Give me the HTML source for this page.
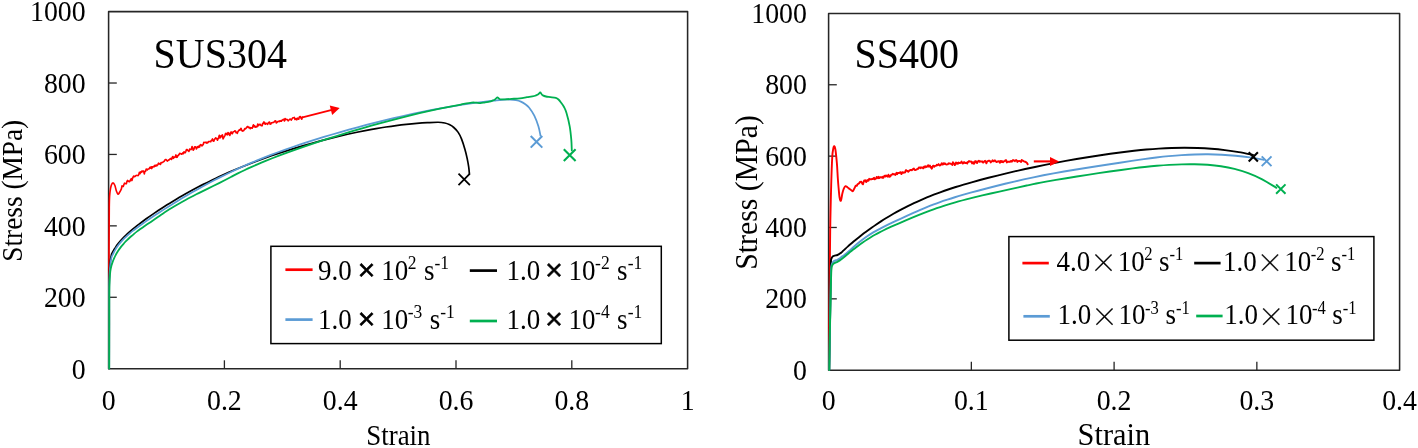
<!DOCTYPE html>
<html lang="en"><head><meta charset="utf-8"><title>Stress-strain curves</title>
<style>html,body{margin:0;padding:0;background:#fff;}body{width:1418px;height:448px;overflow:hidden;}svg{display:block;}</style></head>
<body>
<svg width="1418" height="448" viewBox="0 0 1418 448" role="img" aria-label="Stress-strain curves of SUS304 and SS400">
<rect width="1418" height="448" fill="#ffffff"/>
<rect x="108.60" y="11.60" width="579.00" height="357.10" fill="none" stroke="#262626" stroke-width="1.55" stroke-linejoin="round"/>
<text transform="translate(85.60 378.50) scale(1 1.08)" font-family="'Liberation Serif', 'Times New Roman', serif" font-size="27.8" text-anchor="end" fill="#000">0</text>
<line x1="108.60" y1="297.28" x2="116.80" y2="297.28" stroke="#262626" stroke-width="1.3"/>
<text transform="translate(85.60 307.08) scale(1 1.08)" font-family="'Liberation Serif', 'Times New Roman', serif" font-size="27.8" text-anchor="end" fill="#000">200</text>
<line x1="108.60" y1="225.86" x2="116.80" y2="225.86" stroke="#262626" stroke-width="1.3"/>
<text transform="translate(85.60 235.66) scale(1 1.08)" font-family="'Liberation Serif', 'Times New Roman', serif" font-size="27.8" text-anchor="end" fill="#000">400</text>
<line x1="108.60" y1="154.44" x2="116.80" y2="154.44" stroke="#262626" stroke-width="1.3"/>
<text transform="translate(85.60 164.24) scale(1 1.08)" font-family="'Liberation Serif', 'Times New Roman', serif" font-size="27.8" text-anchor="end" fill="#000">600</text>
<line x1="108.60" y1="83.02" x2="116.80" y2="83.02" stroke="#262626" stroke-width="1.3"/>
<text transform="translate(85.60 92.82) scale(1 1.08)" font-family="'Liberation Serif', 'Times New Roman', serif" font-size="27.8" text-anchor="end" fill="#000">800</text>
<text transform="translate(85.60 21.40) scale(1 1.08)" font-family="'Liberation Serif', 'Times New Roman', serif" font-size="27.8" text-anchor="end" fill="#000">1000</text>
<text transform="translate(108.60 410.4) scale(1 1.08)" font-family="'Liberation Serif', 'Times New Roman', serif" font-size="27.8" text-anchor="middle" fill="#000">0</text>
<line x1="224.40" y1="368.70" x2="224.40" y2="360.30" stroke="#262626" stroke-width="1.3"/>
<text transform="translate(224.40 410.4) scale(1 1.08)" font-family="'Liberation Serif', 'Times New Roman', serif" font-size="27.8" text-anchor="middle" fill="#000">0.2</text>
<line x1="340.20" y1="368.70" x2="340.20" y2="360.30" stroke="#262626" stroke-width="1.3"/>
<text transform="translate(340.20 410.4) scale(1 1.08)" font-family="'Liberation Serif', 'Times New Roman', serif" font-size="27.8" text-anchor="middle" fill="#000">0.4</text>
<line x1="456.00" y1="368.70" x2="456.00" y2="360.30" stroke="#262626" stroke-width="1.3"/>
<text transform="translate(456.00 410.4) scale(1 1.08)" font-family="'Liberation Serif', 'Times New Roman', serif" font-size="27.8" text-anchor="middle" fill="#000">0.6</text>
<line x1="571.80" y1="368.70" x2="571.80" y2="360.30" stroke="#262626" stroke-width="1.3"/>
<text transform="translate(571.80 410.4) scale(1 1.08)" font-family="'Liberation Serif', 'Times New Roman', serif" font-size="27.8" text-anchor="middle" fill="#000">0.8</text>
<text transform="translate(687.60 410.4) scale(1 1.08)" font-family="'Liberation Serif', 'Times New Roman', serif" font-size="27.8" text-anchor="middle" fill="#000">1</text>
<text transform="translate(398.40 445.0) scale(1 1.060)" font-family="'Liberation Serif', 'Times New Roman', serif" font-size="26.9" text-anchor="middle" fill="#000">Strain</text>
<text transform="translate(21.80 190.75) rotate(-90) scale(1 1.08)" font-family="'Liberation Serif', 'Times New Roman', serif" font-size="27.3" text-anchor="middle" fill="#000">Stress (MPa)</text>
<text transform="translate(153.60 67.60) scale(1 1.08)" font-family="'Liberation Serif', 'Times New Roman', serif" font-size="40.0" fill="#000">SUS304</text>
<rect x="828.60" y="13.40" width="571.00" height="356.80" fill="none" stroke="#262626" stroke-width="1.55" stroke-linejoin="round"/>
<text transform="translate(806.90 379.60) scale(1 1.08)" font-family="'Liberation Serif', 'Times New Roman', serif" font-size="27.8" text-anchor="end" fill="#000">0</text>
<line x1="828.60" y1="298.84" x2="836.80" y2="298.84" stroke="#262626" stroke-width="1.3"/>
<text transform="translate(806.90 308.24) scale(1 1.08)" font-family="'Liberation Serif', 'Times New Roman', serif" font-size="27.8" text-anchor="end" fill="#000">200</text>
<line x1="828.60" y1="227.48" x2="836.80" y2="227.48" stroke="#262626" stroke-width="1.3"/>
<text transform="translate(806.90 236.88) scale(1 1.08)" font-family="'Liberation Serif', 'Times New Roman', serif" font-size="27.8" text-anchor="end" fill="#000">400</text>
<line x1="828.60" y1="156.12" x2="836.80" y2="156.12" stroke="#262626" stroke-width="1.3"/>
<text transform="translate(806.90 165.52) scale(1 1.08)" font-family="'Liberation Serif', 'Times New Roman', serif" font-size="27.8" text-anchor="end" fill="#000">600</text>
<line x1="828.60" y1="84.76" x2="836.80" y2="84.76" stroke="#262626" stroke-width="1.3"/>
<text transform="translate(806.90 94.16) scale(1 1.08)" font-family="'Liberation Serif', 'Times New Roman', serif" font-size="27.8" text-anchor="end" fill="#000">800</text>
<text transform="translate(806.90 22.80) scale(1 1.08)" font-family="'Liberation Serif', 'Times New Roman', serif" font-size="27.8" text-anchor="end" fill="#000">1000</text>
<text transform="translate(828.60 410.4) scale(1 1.08)" font-family="'Liberation Serif', 'Times New Roman', serif" font-size="27.8" text-anchor="middle" fill="#000">0</text>
<line x1="971.35" y1="370.20" x2="971.35" y2="361.80" stroke="#262626" stroke-width="1.3"/>
<text transform="translate(971.35 410.4) scale(1 1.08)" font-family="'Liberation Serif', 'Times New Roman', serif" font-size="27.8" text-anchor="middle" fill="#000">0.1</text>
<line x1="1114.10" y1="370.20" x2="1114.10" y2="361.80" stroke="#262626" stroke-width="1.3"/>
<text transform="translate(1114.10 410.4) scale(1 1.08)" font-family="'Liberation Serif', 'Times New Roman', serif" font-size="27.8" text-anchor="middle" fill="#000">0.2</text>
<line x1="1256.85" y1="370.20" x2="1256.85" y2="361.80" stroke="#262626" stroke-width="1.3"/>
<text transform="translate(1256.85 410.4) scale(1 1.08)" font-family="'Liberation Serif', 'Times New Roman', serif" font-size="27.8" text-anchor="middle" fill="#000">0.3</text>
<text transform="translate(1399.60 410.4) scale(1 1.08)" font-family="'Liberation Serif', 'Times New Roman', serif" font-size="27.8" text-anchor="middle" fill="#000">0.4</text>
<text transform="translate(1113.90 445.0) scale(1 1.020)" font-family="'Liberation Serif', 'Times New Roman', serif" font-size="30.4" text-anchor="middle" fill="#000">Strain</text>
<text transform="translate(757.20 192.40) rotate(-90) scale(1 1.08)" font-family="'Liberation Serif', 'Times New Roman', serif" font-size="29.8" text-anchor="middle" fill="#000">Stress (MPa)</text>
<text transform="translate(854.40 67.80) scale(1 1.08)" font-family="'Liberation Serif', 'Times New Roman', serif" font-size="40.0" fill="#000">SS400</text>
<path d="M108.90 368.50 C108.92 348.75 108.93 277.25 109.00 250.00 C109.07 222.75 109.13 214.67 109.30 205.00 C109.47 195.33 109.67 195.28 110.00 192.00 C110.33 188.72 110.80 186.82 111.30 185.30 C111.80 183.78 112.42 182.90 113.00 182.90 C113.58 182.90 114.23 183.95 114.80 185.30 C115.37 186.65 115.87 189.52 116.40 191.00 C116.93 192.48 117.47 193.98 118.00 194.20 C118.53 194.42 119.03 193.18 119.60 192.30 C120.17 191.42 121.10 189.47 121.40 188.90 L122.00 185.93 L122.62 186.35 L123.24 186.52 L123.86 184.78 L124.48 183.20 L125.10 183.45 L125.72 183.57 L126.34 183.73 L126.96 181.38 L127.58 180.34 L128.20 181.43 L128.82 181.15 L129.44 181.64 L130.06 180.94 L130.68 179.50 L131.30 178.66 L131.92 180.58 L132.54 178.28 L133.16 176.97 L133.78 176.04 L134.40 176.57 L135.02 176.45 L135.64 175.71 L136.26 175.49 L136.88 175.44 L137.50 175.52 L138.12 175.61 L138.74 174.60 L139.36 172.36 L139.98 173.68 L140.60 171.92 L141.22 172.30 L141.84 171.01 L142.46 171.70 L143.08 170.95 L143.70 171.37 L144.32 173.88 L144.94 171.37 L145.56 171.26 L146.18 169.12 L146.80 169.23 L147.42 169.83 L148.04 169.09 L148.66 169.05 L149.28 168.57 L149.90 167.26 L150.52 168.04 L151.14 166.82 L151.76 168.59 L152.38 166.75 L153.00 167.09 L153.62 166.35 L154.24 166.75 L154.86 165.28 L155.48 166.07 L156.10 165.07 L156.72 165.79 L157.34 165.19 L157.96 164.39 L158.58 163.17 L159.20 163.98 L159.82 163.70 L160.44 164.42 L161.06 162.63 L161.68 162.77 L162.30 162.54 L162.92 162.07 L163.54 161.66 L164.16 161.32 L164.78 160.34 L165.40 159.52 L166.02 159.63 L166.64 160.29 L167.26 161.04 L167.88 160.55 L168.50 160.27 L169.12 159.75 L169.74 159.34 L170.36 158.58 L170.98 158.68 L171.60 159.36 L172.22 157.50 L172.84 156.51 L173.46 158.34 L174.08 157.11 L174.70 157.22 L175.32 156.95 L175.94 154.94 L176.56 157.31 L177.18 157.13 L177.80 155.50 L178.42 155.38 L179.04 154.60 L179.66 153.33 L180.28 153.47 L180.90 153.72 L181.52 154.22 L182.14 153.79 L182.76 152.92 L183.38 153.61 L184.00 151.76 L184.62 152.43 L185.24 152.67 L185.86 151.32 L186.48 149.49 L187.10 149.59 L187.72 150.40 L188.34 150.65 L188.96 151.39 L189.58 149.17 L190.20 149.29 L190.82 149.67 L191.44 148.87 L192.06 146.56 L192.68 148.53 L193.30 150.12 L193.92 149.19 L194.54 147.11 L195.16 146.82 L195.78 147.10 L196.40 148.93 L197.02 147.58 L197.64 146.61 L198.26 147.42 L198.88 146.02 L199.50 147.15 L200.12 145.05 L200.74 144.51 L201.36 145.22 L201.98 145.81 L202.60 145.11 L203.22 144.44 L203.84 142.25 L204.46 142.48 L205.08 142.43 L205.70 142.30 L206.32 143.04 L206.94 142.24 L207.56 142.82 L208.18 142.16 L208.80 141.45 L209.42 141.48 L210.04 141.57 L210.66 141.77 L211.28 140.48 L211.90 140.18 L212.52 138.95 L213.14 141.02 L213.76 141.22 L214.38 139.69 L215.00 138.86 L215.62 137.82 L216.24 138.59 L216.86 138.64 L217.48 140.18 L218.10 138.72 L218.72 137.29 L219.34 135.32 L219.96 137.98 L220.58 137.42 L221.20 135.56 L221.82 136.46 L222.44 134.97 L223.06 138.82 L223.68 137.58 L224.30 136.63 L224.92 135.58 L225.54 133.46 L226.16 134.50 L226.78 133.36 L227.40 134.77 L228.02 132.60 L228.64 132.96 L229.26 134.72 L229.88 135.37 L230.50 132.93 L231.12 131.87 L231.74 133.53 L232.36 133.76 L232.98 132.08 L233.60 131.76 L234.22 131.52 L234.84 130.89 L235.46 131.02 L236.08 132.57 L236.70 132.32 L237.32 133.29 L237.94 131.54 L238.56 130.91 L239.18 129.88 L239.80 130.22 L240.42 129.14 L241.04 128.33 L241.66 130.12 L242.28 131.06 L242.90 130.65 L243.52 130.83 L244.14 129.81 L244.76 128.58 L245.38 128.84 L246.00 128.36 L246.62 127.48 L247.24 126.63 L247.86 126.47 L248.48 127.58 L249.10 127.86 L249.72 127.26 L250.34 128.63 L250.96 127.77 L251.58 127.78 L252.20 128.21 L252.82 126.43 L253.44 124.88 L254.06 126.71 L254.68 125.81 L255.30 127.20 L255.92 126.59 L256.54 126.90 L257.16 126.65 L257.78 124.02 L258.40 125.66 L259.02 124.77 L259.64 124.36 L260.26 124.43 L260.88 125.38 L261.50 125.61 L262.12 125.67 L262.74 123.27 L263.36 123.50 L263.98 121.91 L264.60 123.38 L265.22 124.25 L265.84 123.19 L266.46 123.70 L267.08 123.71 L267.70 124.29 L268.32 122.77 L268.94 122.29 L269.56 122.13 L270.18 124.17 L270.80 124.02 L271.42 122.84 L272.04 122.76 L272.66 122.57 L273.28 122.51 L273.90 122.05 L274.52 121.75 L275.14 120.79 L275.76 121.00 L276.38 122.95 L277.00 122.40 L277.62 121.78 L278.24 121.31 L278.86 121.35 L279.48 121.54 L280.10 120.65 L280.72 121.08 L281.34 121.16 L281.96 120.26 L282.58 119.93 L283.20 119.60 L283.82 119.39 L284.44 120.95 L285.06 118.47 L285.68 119.57 L286.30 119.48 L286.92 119.37 L287.54 119.88 L288.16 120.82 L288.78 120.07 L289.40 119.62 L290.02 119.03 L290.64 119.23 L291.26 120.11 L291.88 119.13 L292.50 118.17 L293.12 117.76 L293.74 117.72 L294.36 117.40 L294.98 119.40 L295.60 119.19 L296.22 118.56 L296.84 119.80 L297.46 118.22 L298.08 118.97 L298.70 119.14 L299.32 117.09 L299.94 116.50 L300.56 116.83 L301.18 118.43 L301.80 119.09 L302.42 117.02" fill="none" stroke="#fe0000" stroke-width="1.65" stroke-linejoin="round" stroke-linecap="round"/>
<path d="M109.20 368.50 C109.21 360.42 109.25 333.92 109.25 320.00 C109.25 306.08 109.14 293.33 109.20 285.00 C109.26 276.67 109.43 273.75 109.60 270.00 C109.77 266.25 109.90 265.05 110.20 262.50 C110.50 259.95 110.98 256.46 111.40 254.71 C111.82 252.95 112.26 252.87 112.73 251.97 C113.20 251.06 113.70 250.18 114.23 249.30 C114.76 248.42 115.33 247.55 115.92 246.69 C116.51 245.83 117.13 244.98 117.78 244.13 C118.43 243.29 119.11 242.45 119.82 241.61 C120.53 240.78 121.27 239.95 122.04 239.12 C122.81 238.29 123.60 237.47 124.43 236.64 C125.26 235.82 126.12 234.99 127.01 234.17 C127.90 233.34 128.81 232.52 129.76 231.69 C130.71 230.86 131.68 230.03 132.69 229.19 C133.70 228.35 134.73 227.51 135.80 226.66 C136.87 225.81 137.96 224.96 139.09 224.09 C140.21 223.23 141.37 222.36 142.55 221.48 C143.74 220.60 144.95 219.71 146.20 218.81 C147.44 217.92 148.72 217.01 150.02 216.10 C151.32 215.19 152.66 214.27 154.02 213.34 C155.38 212.42 156.78 211.48 158.20 210.54 C159.62 209.60 161.07 208.66 162.56 207.70 C164.04 206.75 165.55 205.79 167.09 204.83 C168.63 203.86 170.20 202.89 171.80 201.92 C173.41 200.94 175.04 199.96 176.70 198.98 C178.36 198.00 180.05 197.01 181.77 196.03 C183.49 195.04 185.24 194.05 187.01 193.06 C188.79 192.07 190.60 191.08 192.44 190.08 C194.28 189.09 196.15 188.10 198.04 187.11 C199.94 186.11 201.87 185.12 203.83 184.13 C205.78 183.14 207.77 182.15 209.79 181.17 C211.80 180.18 213.85 179.20 215.93 178.22 C218.00 177.24 220.11 176.27 222.24 175.30 C224.38 174.33 226.55 173.36 228.74 172.40 C230.94 171.44 233.16 170.49 235.41 169.54 C237.67 168.59 239.95 167.65 242.27 166.71 C244.58 165.78 246.92 164.85 249.30 163.92 C251.67 163.00 254.07 162.08 256.50 161.17 C258.94 160.26 261.40 159.36 263.89 158.47 C266.38 157.57 268.90 156.68 271.46 155.80 C274.01 154.92 276.59 154.05 279.20 153.18 C281.81 152.32 284.45 151.46 287.12 150.62 C289.79 149.77 292.49 148.93 295.22 148.10 C297.95 147.27 300.71 146.45 303.50 145.63 C306.29 144.82 309.11 144.02 311.95 143.22 C314.80 142.43 317.68 141.65 320.59 140.87 C323.50 140.10 326.43 139.33 329.40 138.58 C332.37 137.83 335.36 137.09 338.39 136.37 C341.42 135.64 344.47 134.93 347.56 134.24 C350.65 133.55 353.76 132.88 356.91 132.23 C360.05 131.58 363.23 130.95 366.43 130.34 C369.64 129.74 372.87 129.15 376.14 128.60 C379.40 128.05 382.69 127.52 386.02 127.02 C389.34 126.53 392.69 126.06 396.08 125.63 C399.46 125.20 402.87 124.80 406.32 124.43 C409.76 124.07 413.23 123.74 416.73 123.46 C420.23 123.17 423.77 122.92 427.33 122.72 C430.89 122.51 435.19 122.18 438.10 122.23 C441.01 122.28 442.93 122.60 444.80 123.00 C446.67 123.40 447.80 123.85 449.30 124.60 C450.80 125.35 452.32 126.20 453.80 127.50 C455.28 128.80 456.90 130.47 458.20 132.40 C459.50 134.33 460.48 136.30 461.60 139.10 C462.72 141.90 463.98 146.03 464.90 149.20 C465.82 152.37 466.47 155.13 467.10 158.10 C467.73 161.07 468.32 164.40 468.70 167.00 C469.08 169.60 469.28 172.58 469.40 173.70" fill="none" stroke="#000000" stroke-width="1.70" stroke-linejoin="round" stroke-linecap="round"/>
<path d="M109.20 368.50 C109.21 360.42 109.25 333.42 109.25 320.00 C109.25 306.58 109.14 295.67 109.20 288.00 C109.26 280.33 109.42 277.83 109.60 274.00 C109.78 270.17 110.00 267.69 110.30 265.00 C110.60 262.31 111.01 259.56 111.40 257.88 C111.79 256.19 112.19 255.86 112.62 254.88 C113.05 253.91 113.50 252.97 113.98 252.04 C114.46 251.12 114.97 250.22 115.50 249.34 C116.03 248.46 116.59 247.60 117.17 246.75 C117.75 245.91 118.36 245.08 118.99 244.27 C119.63 243.45 120.28 242.66 120.97 241.87 C121.65 241.08 122.36 240.31 123.09 239.54 C123.82 238.78 124.58 238.02 125.37 237.27 C126.15 236.52 126.96 235.78 127.79 235.04 C128.63 234.30 129.49 233.57 130.37 232.84 C131.25 232.10 132.16 231.37 133.10 230.64 C134.03 229.90 134.99 229.17 135.98 228.43 C136.96 227.69 137.97 226.95 139.01 226.20 C140.05 225.45 141.11 224.69 142.19 223.93 C143.28 223.16 144.39 222.39 145.53 221.60 C146.66 220.82 147.83 220.02 149.01 219.22 C150.20 218.42 151.41 217.60 152.65 216.78 C153.89 215.96 155.15 215.13 156.44 214.29 C157.72 213.44 159.04 212.59 160.38 211.73 C161.71 210.87 163.08 210.00 164.47 209.12 C165.85 208.24 167.27 207.35 168.71 206.45 C170.15 205.55 171.61 204.64 173.10 203.72 C174.59 202.80 176.10 201.87 177.64 200.94 C179.18 200.00 180.75 199.06 182.34 198.11 C183.93 197.16 185.55 196.21 187.19 195.25 C188.83 194.29 190.49 193.32 192.19 192.35 C193.88 191.38 195.59 190.41 197.33 189.43 C199.08 188.45 200.84 187.47 202.64 186.49 C204.43 185.51 206.24 184.53 208.09 183.54 C209.93 182.56 211.80 181.57 213.69 180.59 C215.58 179.61 217.50 178.62 219.44 177.64 C221.39 176.66 223.36 175.68 225.35 174.70 C227.34 173.72 229.36 172.75 231.41 171.78 C233.45 170.81 235.52 169.84 237.62 168.88 C239.71 167.92 241.83 166.96 243.97 166.01 C246.12 165.06 248.29 164.11 250.49 163.18 C252.68 162.24 254.90 161.31 257.15 160.39 C259.39 159.46 261.66 158.55 263.96 157.63 C266.26 156.72 268.58 155.82 270.93 154.92 C273.27 154.02 275.64 153.13 278.04 152.25 C280.44 151.36 282.86 150.48 285.31 149.61 C287.76 148.73 290.23 147.86 292.73 147.00 C295.22 146.14 297.75 145.28 300.30 144.43 C302.84 143.58 305.42 142.73 308.02 141.89 C310.62 141.05 313.24 140.22 315.89 139.39 C318.54 138.56 321.21 137.73 323.91 136.91 C326.61 136.09 329.34 135.28 332.09 134.47 C334.84 133.66 337.61 132.85 340.41 132.05 C343.21 131.25 346.04 130.45 348.89 129.66 C351.74 128.87 354.62 128.08 357.52 127.29 C360.42 126.51 363.35 125.73 366.30 124.96 C369.25 124.18 372.23 123.41 375.23 122.65 C378.23 121.88 381.26 121.13 384.31 120.38 C387.37 119.63 390.44 118.89 393.55 118.16 C396.65 117.43 399.78 116.71 402.93 116.00 C406.08 115.29 409.26 114.59 412.47 113.90 C415.67 113.22 418.90 112.54 422.15 111.88 C425.41 111.22 428.69 110.58 431.99 109.95 C435.30 109.32 438.63 108.70 441.98 108.11 C445.34 107.51 448.72 106.93 452.12 106.37 C455.53 105.81 458.96 105.26 462.42 104.74 C465.87 104.22 469.35 103.71 472.86 103.23 C476.37 102.75 479.90 102.29 483.46 101.86 C487.01 101.42 490.60 101.00 494.20 100.62 C497.81 100.23 502.43 99.69 505.10 99.52 C507.77 99.35 508.38 99.49 510.20 99.60 C512.02 99.71 514.22 99.87 516.00 100.20 C517.78 100.53 519.40 100.97 520.90 101.60 C522.40 102.23 523.65 103.02 525.00 104.00 C526.35 104.98 527.45 105.57 529.00 107.50 C530.55 109.43 532.73 112.47 534.30 115.60 C535.87 118.73 537.37 122.95 538.40 126.30 C539.43 129.65 540.15 134.13 540.50 135.70" fill="none" stroke="#5b9bd5" stroke-width="1.75" stroke-linejoin="round" stroke-linecap="round"/>
<path d="M109.20 368.50 C109.21 360.42 109.23 332.75 109.25 320.00 C109.27 307.25 109.22 298.83 109.30 292.00 C109.38 285.17 109.53 282.42 109.70 279.00 C109.87 275.58 110.02 273.70 110.30 271.50 C110.58 269.30 111.01 267.41 111.40 265.82 C111.79 264.23 112.21 263.20 112.66 261.96 C113.10 260.72 113.58 259.54 114.07 258.39 C114.57 257.25 115.10 256.15 115.65 255.09 C116.21 254.03 116.79 253.01 117.39 252.01 C118.00 251.02 118.63 250.06 119.29 249.13 C119.95 248.19 120.64 247.28 121.35 246.39 C122.07 245.50 122.81 244.63 123.58 243.78 C124.34 242.92 125.14 242.08 125.96 241.24 C126.78 240.40 127.63 239.58 128.50 238.75 C129.38 237.92 130.28 237.10 131.21 236.27 C132.14 235.45 133.09 234.63 134.07 233.82 C135.06 233.01 136.07 232.20 137.10 231.41 C138.14 230.62 139.20 229.84 140.29 229.06 C141.38 228.28 142.49 227.52 143.64 226.73 C144.78 225.95 145.95 225.17 147.15 224.37 C148.34 223.56 149.57 222.74 150.82 221.89 C152.07 221.04 153.34 220.15 154.65 219.25 C155.95 218.35 157.28 217.42 158.64 216.49 C160.00 215.56 161.38 214.60 162.79 213.66 C164.20 212.72 165.64 211.77 167.11 210.84 C168.57 209.90 170.06 208.96 171.58 208.03 C173.10 207.10 174.64 206.17 176.22 205.25 C177.79 204.32 179.39 203.40 181.01 202.48 C182.64 201.56 184.29 200.65 185.97 199.73 C187.65 198.82 189.36 197.91 191.09 197.01 C192.82 196.10 194.58 195.20 196.37 194.30 C198.16 193.39 199.97 192.50 201.81 191.60 C203.65 190.69 205.52 189.79 207.41 188.87 C209.30 187.94 211.22 187.01 213.17 186.05 C215.12 185.09 217.09 184.11 219.09 183.09 C221.10 182.07 223.12 181.01 225.18 179.94 C227.23 178.87 229.31 177.77 231.42 176.68 C233.53 175.59 235.67 174.48 237.83 173.40 C239.99 172.32 242.18 171.25 244.40 170.20 C246.61 169.15 248.85 168.12 251.12 167.10 C253.39 166.08 255.69 165.08 258.01 164.09 C260.33 163.09 262.68 162.11 265.06 161.14 C267.44 160.17 269.84 159.21 272.27 158.26 C274.70 157.31 277.16 156.36 279.64 155.42 C282.13 154.48 284.64 153.55 287.17 152.62 C289.71 151.70 292.27 150.77 294.87 149.85 C297.46 148.93 300.07 148.01 302.72 147.10 C305.36 146.19 308.04 145.28 310.73 144.37 C313.43 143.46 316.16 142.56 318.91 141.65 C321.66 140.75 324.44 139.85 327.25 138.95 C330.05 138.06 332.88 137.16 335.74 136.27 C338.60 135.37 341.49 134.48 344.40 133.59 C347.31 132.70 350.25 131.81 353.22 130.93 C356.19 130.04 359.18 129.16 362.20 128.28 C365.22 127.40 368.27 126.53 371.34 125.66 C374.42 124.79 377.52 123.92 380.64 123.07 C383.77 122.21 386.93 121.36 390.11 120.52 C393.29 119.68 396.49 118.84 399.73 118.02 C402.96 117.20 406.23 116.38 409.51 115.58 C412.80 114.78 416.12 113.99 419.46 113.21 C422.80 112.43 426.17 111.66 429.57 110.91 C432.96 110.15 436.38 109.41 439.83 108.69 C443.28 107.97 446.76 107.26 450.26 106.56 C453.76 105.87 457.29 105.20 460.85 104.54 C464.41 103.88 469.08 102.92 471.60 102.62 C474.12 102.31 474.52 102.62 476.00 102.70 C477.48 102.78 479.00 103.17 480.50 103.10 C482.00 103.03 483.50 102.53 485.00 102.30 C486.50 102.07 488.17 102.02 489.50 101.70 C490.83 101.38 492.08 100.78 493.00 100.40 C493.92 100.02 494.28 99.90 495.00 99.40 C495.72 98.90 496.63 97.53 497.30 97.40 C497.97 97.27 498.45 98.27 499.00 98.60 C499.55 98.93 499.60 99.28 500.60 99.40 C501.60 99.52 503.13 99.38 505.00 99.30 C506.87 99.22 509.30 99.07 511.80 98.90 C514.30 98.73 517.47 98.58 520.00 98.30 C522.53 98.02 524.62 97.58 527.00 97.20 C529.38 96.82 532.47 96.47 534.30 96.00 C536.13 95.53 537.02 94.98 538.00 94.40 C538.98 93.82 539.62 92.57 540.20 92.50 C540.78 92.43 541.05 93.52 541.50 94.00 C541.95 94.48 542.15 94.98 542.90 95.40 C543.65 95.82 544.75 96.22 546.00 96.50 C547.25 96.78 548.77 96.87 550.40 97.10 C552.03 97.33 554.45 97.50 555.80 97.90 C557.15 98.30 557.62 98.70 558.50 99.50 C559.38 100.30 560.18 101.45 561.10 102.70 C562.02 103.95 563.10 105.30 564.00 107.00 C564.90 108.70 565.55 109.68 566.50 112.90 C567.45 116.12 568.90 121.83 569.70 126.30 C570.50 130.77 570.95 135.68 571.30 139.70 C571.65 143.72 571.72 148.62 571.80 150.40" fill="none" stroke="#00b050" stroke-width="1.80" stroke-linejoin="round" stroke-linecap="round"/>
<path d="M458.50 173.70 L469.90 185.10 M458.50 185.10 L469.90 173.70" stroke="#000000" stroke-width="1.80" fill="none"/>
<path d="M530.70 136.00 L542.30 147.60 M530.70 147.60 L542.30 136.00" stroke="#5b9bd5" stroke-width="2.00" fill="none"/>
<path d="M563.80 149.30 L575.60 161.10 M563.80 161.10 L575.60 149.30" stroke="#00b050" stroke-width="2.10" fill="none"/>
<line x1="302.50" y1="117.30" x2="331.94" y2="109.94" stroke="#fe0000" stroke-width="1.90"/>
<polygon points="339.70,108.00 332.16,114.94 329.78,105.43" fill="#fe0000"/>
<path d="M829.00 370.00 C829.08 358.33 829.30 323.33 829.50 300.00 C829.70 276.67 829.92 249.17 830.20 230.00 C830.48 210.83 830.86 197.17 831.20 185.00 C831.54 172.83 831.90 163.08 832.25 157.00 C832.60 150.92 832.96 150.30 833.30 148.50 C833.64 146.70 833.95 146.03 834.30 146.20 C834.65 146.37 834.97 146.63 835.40 149.50 C835.83 152.37 836.50 158.65 836.90 163.40 C837.30 168.15 837.52 173.90 837.80 178.00 C838.08 182.10 838.32 184.83 838.60 188.00 C838.88 191.17 839.18 194.87 839.50 197.00 C839.82 199.13 840.20 200.43 840.50 200.80 C840.80 201.17 840.98 200.45 841.30 199.20 C841.62 197.95 841.98 195.07 842.40 193.30 C842.82 191.53 843.28 189.80 843.80 188.60 C844.32 187.40 844.90 186.33 845.50 186.10 C846.10 185.87 846.75 186.75 847.40 187.20 C848.05 187.65 848.73 188.28 849.40 188.80 C850.07 189.32 850.82 189.90 851.40 190.30 C851.98 190.70 852.43 191.45 852.90 191.20 C853.37 190.95 853.73 189.73 854.20 188.80 C854.67 187.87 855.45 186.13 855.70 185.60 L856.80 185.72 L857.42 184.53 L858.04 183.98 L858.66 183.48 L859.28 183.30 L859.90 181.96 L860.52 181.99 L861.14 181.63 L861.76 182.56 L862.38 183.74 L863.00 184.31 L863.62 182.08 L864.24 180.37 L864.86 180.71 L865.48 180.25 L866.10 182.06 L866.72 181.35 L867.34 180.10 L867.96 180.83 L868.58 180.59 L869.20 178.85 L869.82 179.06 L870.44 179.20 L871.06 179.29 L871.68 179.27 L872.30 178.82 L872.92 178.96 L873.54 178.33 L874.16 177.85 L874.78 179.34 L875.40 178.78 L876.02 178.60 L876.64 177.00 L877.26 177.52 L877.88 178.25 L878.50 176.84 L879.12 178.09 L879.74 177.25 L880.36 177.51 L880.98 177.10 L881.60 177.16 L882.22 177.78 L882.84 176.70 L883.46 177.74 L884.08 176.24 L884.70 175.66 L885.32 176.60 L885.94 175.47 L886.56 175.60 L887.18 176.44 L887.80 176.78 L888.42 174.64 L889.04 175.63 L889.66 176.77 L890.28 176.46 L890.90 175.26 L891.52 174.61 L892.14 174.56 L892.76 173.83 L893.38 174.18 L894.00 174.22 L894.62 174.15 L895.24 174.97 L895.86 174.06 L896.48 172.85 L897.10 174.22 L897.72 172.93 L898.34 172.94 L898.96 173.04 L899.58 172.80 L900.20 172.15 L900.82 172.39 L901.44 174.06 L902.06 172.37 L902.68 172.15 L903.30 172.86 L903.92 172.64 L904.54 172.47 L905.16 172.37 L905.78 170.20 L906.40 170.31 L907.02 170.92 L907.64 171.21 L908.26 171.72 L908.88 171.13 L909.50 170.36 L910.12 170.24 L910.74 169.90 L911.36 170.03 L911.98 170.25 L912.60 169.46 L913.22 168.81 L913.84 168.50 L914.46 169.71 L915.08 170.04 L915.70 169.80 L916.32 169.54 L916.94 169.36 L917.56 168.62 L918.18 168.82 L918.80 167.55 L919.42 167.74 L920.04 167.32 L920.66 168.17 L921.28 167.36 L921.90 167.41 L922.52 167.70 L923.14 168.37 L923.76 166.93 L924.38 166.39 L925.00 167.42 L925.62 166.23 L926.24 166.97 L926.86 166.36 L927.48 166.46 L928.10 165.19 L928.72 166.61 L929.34 166.03 L929.96 165.53 L930.58 167.46 L931.20 166.90 L931.82 168.69 L932.44 166.86 L933.06 165.80 L933.68 165.80 L934.30 166.81 L934.92 165.83 L935.54 165.87 L936.16 165.87 L936.78 164.79 L937.40 165.21 L938.02 164.80 L938.64 164.11 L939.26 165.40 L939.88 165.52 L940.50 165.07 L941.12 164.21 L941.74 163.16 L942.36 164.61 L942.98 164.52 L943.60 163.31 L944.22 164.12 L944.84 163.23 L945.46 164.02 L946.08 164.30 L946.70 164.47 L947.32 164.37 L947.94 164.27 L948.56 163.26 L949.18 163.51 L949.80 163.43 L950.42 163.57 L951.04 163.92 L951.66 164.22 L952.28 164.98 L952.90 162.13 L953.52 163.49 L954.14 163.37 L954.76 165.07 L955.38 164.49 L956.00 162.47 L956.62 163.39 L957.24 162.93 L957.86 163.86 L958.48 162.60 L959.10 162.93 L959.72 162.95 L960.34 162.95 L960.96 162.57 L961.58 161.55 L962.20 162.90 L962.82 163.59 L963.44 162.97 L964.06 162.11 L964.68 162.73 L965.30 163.12 L965.92 162.66 L966.54 162.63 L967.16 163.61 L967.78 162.02 L968.40 162.00 L969.02 161.01 L969.64 161.59 L970.26 161.68 L970.88 161.52 L971.50 161.65 L972.12 163.43 L972.74 162.43 L973.36 162.21 L973.98 163.78 L974.60 162.54 L975.22 161.02 L975.84 162.13 L976.46 161.44 L977.08 163.08 L977.70 161.41 L978.32 161.45 L978.94 160.70 L979.56 161.71 L980.18 161.15 L980.80 161.67 L981.42 161.55 L982.04 161.34 L982.66 162.37 L983.28 162.61 L983.90 162.03 L984.52 161.18 L985.14 160.83 L985.76 161.68 L986.38 163.38 L987.00 161.76 L987.62 161.11 L988.24 160.99 L988.86 160.66 L989.48 160.65 L990.10 161.18 L990.72 162.46 L991.34 161.74 L991.96 161.19 L992.58 160.25 L993.20 161.30 L993.82 161.38 L994.44 160.53 L995.06 160.40 L995.68 161.10 L996.30 162.01 L996.92 161.95 L997.54 161.63 L998.16 161.16 L998.78 161.48 L999.40 161.32 L1000.02 162.82 L1000.64 160.83 L1001.26 160.86 L1001.88 162.03 L1002.50 161.21 L1003.12 162.20 L1003.74 161.39 L1004.36 161.31 L1004.98 160.92 L1005.60 160.09 L1006.22 160.16 L1006.84 162.44 L1007.46 161.88 L1008.08 161.70 L1008.70 161.90 L1009.32 161.66 L1009.94 161.92 L1010.56 161.05 L1011.18 160.86 L1011.80 161.66 L1012.42 160.90 L1013.04 160.01 L1013.66 160.56 L1014.28 160.47 L1014.90 161.26 L1015.52 160.50 L1016.14 160.06 L1016.76 160.46 L1017.38 161.89 L1018.00 161.10 L1018.62 161.05 L1019.24 160.92 L1019.86 161.08 L1020.48 161.57 L1021.10 162.02 L1021.72 159.96 L1024.0 161.4 L1025.8 162.0 L1027.0 163.0 L1027.7 164.2" fill="none" stroke="#fe0000" stroke-width="1.90" stroke-linejoin="round" stroke-linecap="round"/>
<path d="M829.30 370.00 C829.40 363.33 829.70 343.33 829.90 330.00 C830.10 316.67 830.35 300.00 830.50 290.00 C830.65 280.00 830.72 274.93 830.80 270.00 C830.88 265.07 830.83 262.43 831.00 260.40 C831.17 258.37 831.52 258.47 831.80 257.80 C832.08 257.13 832.25 256.75 832.70 256.40 C833.15 256.05 833.72 255.93 834.50 255.70 C835.28 255.47 836.57 255.32 837.40 255.00 C838.23 254.68 838.83 254.22 839.50 253.80 C840.17 253.38 840.76 253.00 841.40 252.47 C842.04 251.94 842.66 251.27 843.35 250.63 C844.04 249.98 844.77 249.30 845.54 248.60 C846.31 247.89 847.12 247.16 847.98 246.40 C848.83 245.64 849.72 244.85 850.66 244.04 C851.59 243.23 852.57 242.40 853.59 241.54 C854.60 240.69 855.66 239.81 856.76 238.92 C857.86 238.03 859.00 237.11 860.18 236.18 C861.36 235.26 862.58 234.31 863.84 233.35 C865.10 232.40 866.40 231.42 867.75 230.44 C869.09 229.46 870.47 228.47 871.90 227.47 C873.32 226.47 874.79 225.46 876.29 224.44 C877.80 223.43 879.35 222.41 880.94 221.38 C882.52 220.36 884.15 219.33 885.82 218.30 C887.49 217.28 889.20 216.25 890.95 215.22 C892.70 214.19 894.50 213.17 896.33 212.15 C898.16 211.13 900.04 210.11 901.95 209.10 C903.87 208.09 905.82 207.09 907.82 206.10 C909.81 205.11 911.85 204.12 913.93 203.15 C916.01 202.17 918.13 201.21 920.28 200.26 C922.44 199.30 924.64 198.36 926.89 197.44 C929.13 196.51 931.41 195.60 933.73 194.70 C936.05 193.80 938.42 192.91 940.82 192.05 C943.23 191.18 945.67 190.33 948.16 189.49 C950.64 188.65 953.17 187.83 955.74 187.03 C958.31 186.22 960.92 185.42 963.57 184.64 C966.21 183.85 968.90 183.08 971.64 182.31 C974.37 181.54 977.14 180.78 979.95 180.03 C982.76 179.27 985.62 178.53 988.51 177.78 C991.41 177.04 994.34 176.30 997.32 175.56 C1000.29 174.82 1003.31 174.09 1006.37 173.36 C1009.42 172.63 1012.52 171.90 1015.66 171.18 C1018.80 170.47 1021.98 169.75 1025.20 169.05 C1028.42 168.34 1031.69 167.64 1034.99 166.95 C1038.29 166.25 1041.63 165.57 1045.02 164.89 C1048.40 164.21 1051.83 163.55 1055.29 162.89 C1058.76 162.23 1062.26 161.58 1065.81 160.94 C1069.36 160.30 1072.95 159.67 1076.58 159.05 C1080.21 158.43 1083.88 157.82 1087.59 157.23 C1091.30 156.63 1095.05 156.05 1098.84 155.48 C1102.63 154.91 1106.47 154.35 1110.34 153.80 C1114.21 153.26 1118.13 152.72 1122.09 152.22 C1126.04 151.72 1130.04 151.23 1134.07 150.78 C1138.11 150.34 1142.19 149.91 1146.31 149.55 C1150.43 149.18 1154.59 148.85 1158.79 148.59 C1162.99 148.33 1167.23 148.11 1171.51 147.97 C1175.79 147.82 1180.12 147.74 1184.48 147.74 C1188.84 147.75 1193.25 147.82 1197.70 147.99 C1202.14 148.16 1206.63 148.40 1211.15 148.76 C1215.68 149.12 1220.25 149.57 1224.86 150.13 C1229.47 150.70 1234.12 151.36 1238.81 152.16 C1243.50 152.96 1250.63 154.46 1253.00 154.92" fill="none" stroke="#000000" stroke-width="1.90" stroke-linejoin="round" stroke-linecap="round"/>
<path d="M829.30 370.00 C829.40 363.33 829.70 342.50 829.90 330.00 C830.10 317.50 830.33 304.17 830.50 295.00 C830.67 285.83 830.77 279.67 830.90 275.00 C831.03 270.33 831.12 268.87 831.30 267.00 C831.48 265.13 831.55 264.78 832.00 263.80 C832.45 262.82 833.10 261.77 834.00 261.10 C834.90 260.43 836.48 260.22 837.40 259.80 C838.32 259.38 838.83 259.06 839.50 258.60 C840.17 258.14 840.76 257.52 841.40 257.05 C842.04 256.58 842.65 256.28 843.34 255.78 C844.02 255.28 844.75 254.70 845.52 254.07 C846.29 253.44 847.09 252.73 847.94 251.99 C848.79 251.25 849.68 250.44 850.61 249.62 C851.54 248.80 852.51 247.94 853.52 247.06 C854.53 246.18 855.58 245.27 856.67 244.35 C857.76 243.43 858.89 242.49 860.06 241.55 C861.23 240.61 862.44 239.66 863.70 238.73 C864.95 237.80 866.24 236.87 867.58 235.97 C868.91 235.07 870.28 234.19 871.70 233.33 C873.11 232.47 874.57 231.64 876.06 230.81 C877.56 229.98 879.09 229.19 880.67 228.37 C882.24 227.55 883.86 226.72 885.52 225.89 C887.17 225.07 888.87 224.25 890.61 223.43 C892.35 222.60 894.13 221.77 895.94 220.93 C897.76 220.08 899.62 219.23 901.52 218.36 C903.42 217.48 905.36 216.59 907.34 215.68 C909.32 214.78 911.34 213.85 913.40 212.93 C915.47 212.00 917.57 211.06 919.71 210.14 C921.85 209.21 924.03 208.27 926.26 207.36 C928.48 206.44 930.74 205.53 933.05 204.64 C935.35 203.76 937.70 202.88 940.08 202.04 C942.47 201.20 944.89 200.40 947.36 199.59 C949.82 198.79 952.33 198.00 954.88 197.23 C957.42 196.45 960.01 195.69 962.64 194.93 C965.26 194.18 967.93 193.44 970.64 192.70 C973.35 191.96 976.10 191.23 978.89 190.49 C981.68 189.75 984.51 189.02 987.38 188.27 C990.25 187.52 993.16 186.76 996.11 186.01 C999.06 185.26 1002.05 184.51 1005.08 183.77 C1008.11 183.03 1011.19 182.30 1014.30 181.58 C1017.41 180.85 1020.56 180.13 1023.76 179.42 C1026.95 178.71 1030.19 178.00 1033.46 177.31 C1036.73 176.62 1040.05 175.94 1043.40 175.29 C1046.76 174.63 1050.16 174.00 1053.59 173.37 C1057.03 172.75 1060.50 172.15 1064.02 171.55 C1067.54 170.95 1071.10 170.37 1074.69 169.78 C1078.29 169.20 1081.93 168.63 1085.61 168.04 C1089.29 167.46 1093.01 166.89 1096.77 166.30 C1100.53 165.71 1104.33 165.12 1108.17 164.52 C1112.01 163.92 1115.89 163.30 1119.81 162.69 C1123.73 162.08 1127.69 161.46 1131.70 160.86 C1135.70 160.26 1139.74 159.67 1143.83 159.11 C1147.91 158.55 1152.03 158.01 1156.20 157.52 C1160.36 157.03 1164.57 156.56 1168.81 156.16 C1173.06 155.76 1177.34 155.40 1181.67 155.12 C1185.99 154.84 1190.36 154.61 1194.77 154.48 C1199.17 154.34 1203.62 154.27 1208.11 154.31 C1212.59 154.34 1217.12 154.45 1221.69 154.68 C1226.26 154.91 1230.87 155.24 1235.52 155.69 C1240.17 156.14 1244.86 156.70 1249.59 157.41 C1254.32 158.11 1261.51 159.49 1263.90 159.91" fill="none" stroke="#5b9bd5" stroke-width="1.90" stroke-linejoin="round" stroke-linecap="round"/>
<path d="M829.30 370.00 C829.40 363.33 829.68 341.67 829.90 330.00 C830.12 318.33 830.42 308.33 830.60 300.00 C830.78 291.67 830.88 284.83 831.00 280.00 C831.12 275.17 831.17 273.25 831.30 271.00 C831.43 268.75 831.45 267.70 831.80 266.50 C832.15 265.30 832.47 264.58 833.40 263.80 C834.33 263.02 836.38 262.33 837.40 261.80 C838.42 261.27 838.83 261.03 839.50 260.60 C840.17 260.17 840.77 259.67 841.40 259.19 C842.03 258.71 842.62 258.25 843.29 257.72 C843.96 257.18 844.67 256.60 845.42 255.98 C846.17 255.36 846.96 254.69 847.78 254.01 C848.61 253.32 849.47 252.58 850.37 251.85 C851.28 251.12 852.22 250.38 853.20 249.62 C854.18 248.85 855.20 248.06 856.25 247.26 C857.31 246.46 858.41 245.64 859.54 244.82 C860.68 243.99 861.85 243.16 863.07 242.32 C864.28 241.49 865.53 240.64 866.82 239.80 C868.11 238.97 869.44 238.13 870.81 237.29 C872.17 236.46 873.58 235.61 875.03 234.79 C876.47 233.97 877.96 233.16 879.48 232.36 C881.00 231.56 882.56 230.78 884.16 230.00 C885.76 229.22 887.40 228.46 889.08 227.69 C890.76 226.92 892.47 226.17 894.23 225.40 C895.98 224.64 897.78 223.89 899.61 223.10 C901.44 222.32 903.31 221.50 905.22 220.68 C907.13 219.86 909.08 219.02 911.07 218.18 C913.06 217.34 915.09 216.49 917.15 215.65 C919.22 214.80 921.32 213.95 923.46 213.11 C925.61 212.27 927.79 211.43 930.01 210.60 C932.23 209.78 934.49 208.96 936.78 208.16 C939.08 207.36 941.42 206.58 943.79 205.82 C946.17 205.06 948.58 204.34 951.04 203.61 C953.49 202.88 955.98 202.14 958.51 201.43 C961.04 200.72 963.61 200.04 966.22 199.36 C968.82 198.68 971.47 198.02 974.16 197.36 C976.84 196.71 979.56 196.06 982.33 195.42 C985.09 194.78 987.89 194.15 990.73 193.51 C993.57 192.87 996.45 192.26 999.37 191.61 C1002.29 190.96 1005.24 190.26 1008.24 189.59 C1011.23 188.91 1014.27 188.24 1017.34 187.56 C1020.41 186.89 1023.52 186.21 1026.67 185.54 C1029.82 184.87 1033.01 184.17 1036.24 183.53 C1039.47 182.88 1042.73 182.27 1046.04 181.67 C1049.34 181.07 1052.69 180.50 1056.07 179.93 C1059.45 179.35 1062.88 178.77 1066.34 178.20 C1069.80 177.63 1073.29 177.06 1076.83 176.50 C1080.37 175.94 1083.95 175.38 1087.56 174.82 C1091.18 174.27 1094.83 173.72 1098.52 173.18 C1102.22 172.63 1105.95 172.09 1109.72 171.56 C1113.49 171.02 1117.30 170.49 1121.14 169.97 C1124.99 169.45 1128.88 168.92 1132.80 168.43 C1136.73 167.93 1140.69 167.44 1144.70 167.00 C1148.70 166.56 1152.74 166.14 1156.82 165.78 C1160.90 165.43 1165.02 165.10 1169.18 164.86 C1173.33 164.62 1177.53 164.42 1181.77 164.33 C1186.00 164.23 1190.27 164.19 1194.59 164.27 C1198.90 164.35 1203.25 164.48 1207.64 164.82 C1212.03 165.15 1216.46 165.57 1220.93 166.26 C1225.40 166.95 1229.90 167.79 1234.45 168.94 C1238.99 170.10 1243.58 171.47 1248.20 173.21 C1252.82 174.95 1257.48 176.95 1262.18 179.39 C1266.88 181.83 1274.03 186.43 1276.40 187.84" fill="none" stroke="#00b050" stroke-width="1.90" stroke-linejoin="round" stroke-linecap="round"/>
<path d="M1276.10 184.40 L1285.50 193.80 M1276.10 193.80 L1285.50 184.40" stroke="#00b050" stroke-width="2.00" fill="none"/>
<path d="M1261.70 156.40 L1271.50 166.20 M1261.70 166.20 L1271.50 156.40" stroke="#5b9bd5" stroke-width="1.90" fill="none"/>
<path d="M1248.70 152.30 L1257.90 161.50 M1248.70 161.50 L1257.90 152.30" stroke="#000000" stroke-width="2.10" fill="none"/>
<line x1="1033.80" y1="161.40" x2="1051.00" y2="161.40" stroke="#fe0000" stroke-width="2.10"/>
<polygon points="1059.20,161.40 1050.00,165.90 1050.00,156.90" fill="#fe0000"/>
<rect x="270.9" y="246.3" width="390.4" height="97.3" fill="#fff" stroke="#000" stroke-width="1.5"/>
<line x1="285.40" y1="269.70" x2="312.60" y2="269.70" stroke="#fe0000" stroke-width="2.7"/>
<text transform="translate(318.00 279.80) scale(1 1.08)" font-family="'Liberation Serif', 'Times New Roman', serif" font-size="27" fill="#000">9.0</text>
<text x="366.50" y="279.70" font-family="'Liberation Sans', Arial, sans-serif" font-size="30" text-anchor="middle" fill="#000" stroke="#000" stroke-width="0.5">×</text>
<text transform="translate(381.20 279.80) scale(1 1.08)" font-family="'Liberation Serif', 'Times New Roman', serif" font-size="27" fill="#000" xml:space="preserve">10<tspan font-size="17.5" dy="-9.6" dx="-0.5">2</tspan><tspan dy="9.6" dx="0.7"> s</tspan><tspan font-size="17.5" dy="-9.6">-1</tspan></text>
<line x1="469.80" y1="270.60" x2="497.00" y2="270.60" stroke="#000000" stroke-width="2.7"/>
<text transform="translate(506.60 279.80) scale(1 1.08)" font-family="'Liberation Serif', 'Times New Roman', serif" font-size="27" fill="#000">1.0</text>
<text x="553.90" y="279.70" font-family="'Liberation Sans', Arial, sans-serif" font-size="30" text-anchor="middle" fill="#000" stroke="#000" stroke-width="0.5">×</text>
<text transform="translate(568.60 279.80) scale(1 1.08)" font-family="'Liberation Serif', 'Times New Roman', serif" font-size="27" fill="#000" xml:space="preserve">10<tspan font-size="17.5" dy="-9.6" dx="-0.5">-2</tspan><tspan dy="9.6" dx="0.7"> s</tspan><tspan font-size="17.5" dy="-9.6">-1</tspan></text>
<line x1="285.40" y1="319.60" x2="312.60" y2="319.60" stroke="#5b9bd5" stroke-width="2.7"/>
<text transform="translate(318.00 328.60) scale(1 1.08)" font-family="'Liberation Serif', 'Times New Roman', serif" font-size="27" fill="#000">1.0</text>
<text x="366.50" y="328.50" font-family="'Liberation Sans', Arial, sans-serif" font-size="30" text-anchor="middle" fill="#000" stroke="#000" stroke-width="0.5">×</text>
<text transform="translate(381.20 328.60) scale(1 1.08)" font-family="'Liberation Serif', 'Times New Roman', serif" font-size="27" fill="#000" xml:space="preserve">10<tspan font-size="17.5" dy="-9.6" dx="-0.5">-3</tspan><tspan dy="9.6" dx="0.7"> s</tspan><tspan font-size="17.5" dy="-9.6">-1</tspan></text>
<line x1="469.80" y1="321.00" x2="497.00" y2="321.00" stroke="#00b050" stroke-width="2.7"/>
<text transform="translate(506.60 328.60) scale(1 1.08)" font-family="'Liberation Serif', 'Times New Roman', serif" font-size="27" fill="#000">1.0</text>
<text x="553.90" y="328.50" font-family="'Liberation Sans', Arial, sans-serif" font-size="30" text-anchor="middle" fill="#000" stroke="#000" stroke-width="0.5">×</text>
<text transform="translate(568.60 328.60) scale(1 1.08)" font-family="'Liberation Serif', 'Times New Roman', serif" font-size="27" fill="#000" xml:space="preserve">10<tspan font-size="17.5" dy="-9.6" dx="-0.5">-4</tspan><tspan dy="9.6" dx="0.7"> s</tspan><tspan font-size="17.5" dy="-9.6">-1</tspan></text>
<rect x="1008.9" y="236.6" width="365.0" height="103.6" fill="#fff" stroke="#000" stroke-width="1.5"/>
<line x1="1022.40" y1="263.10" x2="1048.80" y2="263.10" stroke="#fe0000" stroke-width="2.7"/>
<text transform="translate(1056.60 270.70) scale(1 1.08)" font-family="'Liberation Serif', 'Times New Roman', serif" font-size="27" fill="#000">4.0</text>
<text x="1103.50" y="272.90" font-family="'Noto Serif CJK SC', 'Noto Serif CJK JP', IPAGothic, serif" font-size="27.5" text-anchor="middle" fill="#000" stroke="#000" stroke-width="0.25">×</text>
<text transform="translate(1117.70 270.70) scale(1 1.08)" font-family="'Liberation Serif', 'Times New Roman', serif" font-size="27" fill="#000" xml:space="preserve">10<tspan font-size="16.6" dy="-9.6" dx="-0.5">2</tspan><tspan dy="9.6" dx="-0.2"> s</tspan><tspan font-size="16.6" dy="-9.6">-1</tspan></text>
<line x1="1194.20" y1="263.10" x2="1220.60" y2="263.10" stroke="#000000" stroke-width="2.7"/>
<text transform="translate(1223.10 270.70) scale(1 1.08)" font-family="'Liberation Serif', 'Times New Roman', serif" font-size="27" fill="#000">1.0</text>
<text x="1270.00" y="272.90" font-family="'Noto Serif CJK SC', 'Noto Serif CJK JP', IPAGothic, serif" font-size="27.5" text-anchor="middle" fill="#000" stroke="#000" stroke-width="0.25">×</text>
<text transform="translate(1284.20 270.70) scale(1 1.08)" font-family="'Liberation Serif', 'Times New Roman', serif" font-size="27" fill="#000" xml:space="preserve">10<tspan font-size="16.6" dy="-9.6" dx="-0.5">-2</tspan><tspan dy="9.6" dx="-0.2"> s</tspan><tspan font-size="16.6" dy="-9.6">-1</tspan></text>
<line x1="1023.40" y1="316.30" x2="1049.80" y2="316.30" stroke="#5b9bd5" stroke-width="2.7"/>
<text transform="translate(1057.50 324.30) scale(1 1.08)" font-family="'Liberation Serif', 'Times New Roman', serif" font-size="27" fill="#000">1.0</text>
<text x="1104.40" y="326.50" font-family="'Noto Serif CJK SC', 'Noto Serif CJK JP', IPAGothic, serif" font-size="27.5" text-anchor="middle" fill="#000" stroke="#000" stroke-width="0.25">×</text>
<text transform="translate(1118.60 324.30) scale(1 1.08)" font-family="'Liberation Serif', 'Times New Roman', serif" font-size="27" fill="#000" xml:space="preserve">10<tspan font-size="16.6" dy="-9.6" dx="-0.5">-3</tspan><tspan dy="9.6" dx="-0.2"> s</tspan><tspan font-size="16.6" dy="-9.6">-1</tspan></text>
<line x1="1196.20" y1="316.00" x2="1222.60" y2="316.00" stroke="#00b050" stroke-width="2.7"/>
<text transform="translate(1224.30 324.30) scale(1 1.08)" font-family="'Liberation Serif', 'Times New Roman', serif" font-size="27" fill="#000">1.0</text>
<text x="1271.20" y="326.50" font-family="'Noto Serif CJK SC', 'Noto Serif CJK JP', IPAGothic, serif" font-size="27.5" text-anchor="middle" fill="#000" stroke="#000" stroke-width="0.25">×</text>
<text transform="translate(1285.40 324.30) scale(1 1.08)" font-family="'Liberation Serif', 'Times New Roman', serif" font-size="27" fill="#000" xml:space="preserve">10<tspan font-size="16.6" dy="-9.6" dx="-0.5">-4</tspan><tspan dy="9.6" dx="-0.2"> s</tspan><tspan font-size="16.6" dy="-9.6">-1</tspan></text>
</svg>
</body></html>
